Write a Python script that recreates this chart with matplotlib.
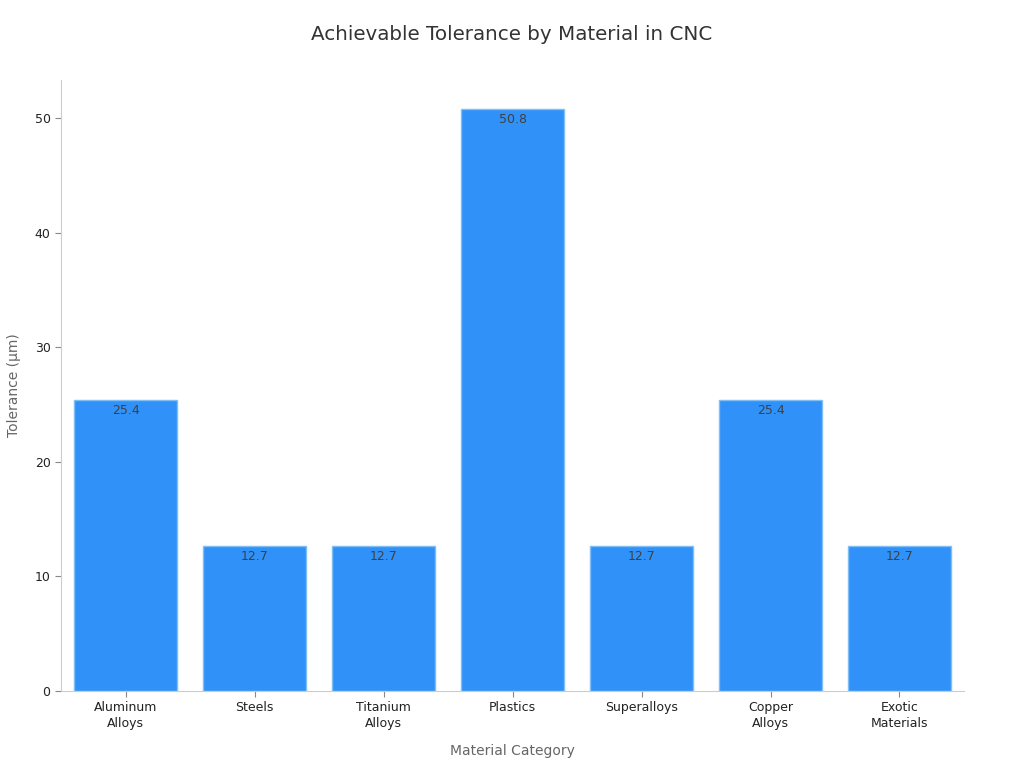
import matplotlib
matplotlib.use("Agg")
import matplotlib.pyplot as plt

categories = ["Aluminum\nAlloys", "Steels", "Titanium\nAlloys", "Plastics",
              "Superalloys", "Copper\nAlloys", "Exotic\nMaterials"]
tolerance_um = [25.4, 12.7, 12.7, 50.8, 12.7, 25.4, 12.7]

fig = plt.figure(figsize=(10.24, 7.68), dpi=100)
ax = fig.add_axes([0.0596, 0.1003, 0.8818, 0.7955])

x = range(len(categories))
bars = ax.bar(x, tolerance_um, width=0.8, color="#3092F8", edgecolor="#7FBFF5", linewidth=1)

for b, v in zip(bars, tolerance_um):
    ax.annotate(f"{v}", (b.get_x() + b.get_width() / 2, v), xytext=(0, -3),
                textcoords="offset points", ha="center", va="top",
                fontsize=9, color="#404040")

ax.set_xlim(-0.5, 6.5)
ax.set_ylim(0, 53.34)
ax.set_xticks(list(x))
ax.set_xticklabels(categories, fontsize=9, color="#222222", linespacing=1.3)
ax.set_yticks([0, 10, 20, 30, 40, 50])
ax.tick_params(axis="y", labelsize=9, labelcolor="#222222", color="#888888", length=4)
ax.tick_params(axis="x", color="#888888", length=4)

for s in ["top", "right"]:
    ax.spines[s].set_visible(False)
for s in ["left", "bottom"]:
    ax.spines[s].set_color("#cccccc")

ax.set_xlabel("Material Category", fontsize=10, color="#666666", labelpad=10)
ax.set_ylabel("Tolerance (µm)", fontsize=10, color="#666666", labelpad=10)
fig.suptitle("Achievable Tolerance by Material in CNC", fontsize=14.3, color="#333333", y=0.968)

fig.savefig("out.png", dpi=100)
